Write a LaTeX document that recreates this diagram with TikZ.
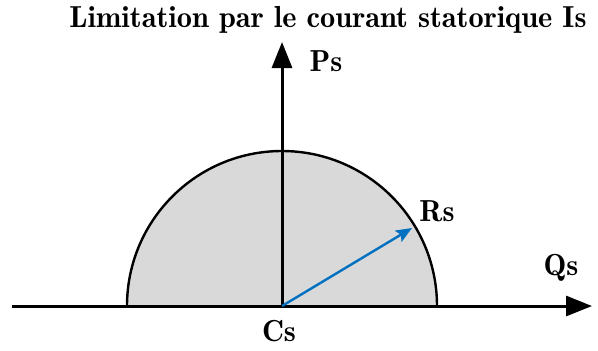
\documentclass[tikz,border=0pt]{standalone}
\usetikzlibrary{arrows.meta}
\definecolor{vecblue}{RGB}{0,112,192}

\begin{document}
\begin{tikzpicture}[x=0.5pt,y=-0.5pt,
  axis/.style={draw=black,line width=1.5pt,-{Triangle[length=13pt,width=10pt]}},
  disc/.style={draw=black,line width=1.2pt,fill=black!15},
  vec/.style={draw=vecblue,line width=1.2pt,-{Stealth[length=8pt,width=6.5pt,inset=1.5pt]}},
  label/.style={font=\fontseries{b}\fontsize{15.2}{18}\selectfont},
]
\useasboundingbox (0,0) rectangle (598,350);
% centre and axis ends
\coordinate (c) at (282,306);
\coordinate (west) at (12,306);
\coordinate (east) at (592,306);
\coordinate (north) at (282,42);
\coordinate (top) at (282,151);
\coordinate (tip) at (412,228);
% current limit circle
\draw[disc] (127,306) arc[start angle=180,end angle=360,radius=155];
\draw[line width=1pt] (c) -- (top);
% axes
\draw[axis] (west) -- (east);
\draw[axis] (c) -- (north);
% vector
\draw[vec] (c) -- (tip);
% labels
\node[label] (title) at (328,20) {Limitation par le courant statorique Is};
\node[label] (ps) at (326,61) {Ps};
\node[label] (rslab) at (437,211) {Rs};
\node[label] (qs) at (561,268) {Qs};
\node[label] (cs) at (279,331) {Cs};
\end{tikzpicture}
\end{document}
